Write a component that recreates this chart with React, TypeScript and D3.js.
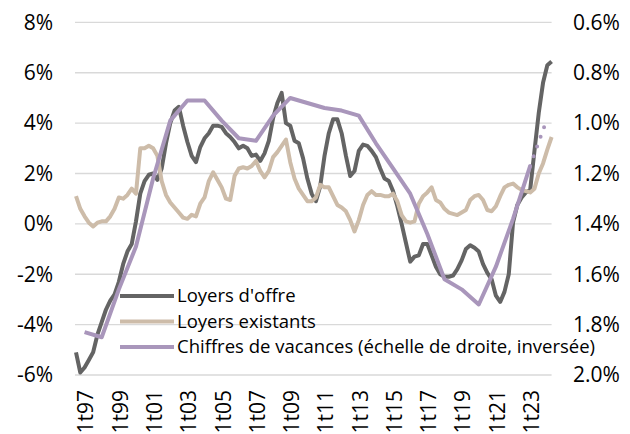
import React from "react";
import * as d3 from "d3";

// quarterly categories, 3t96 .. 2t24
const quarters: string[] = d3.range(112).map((i) => {
  const q = ((2 + i) % 4) + 1;
  const y = 1996 + Math.floor((2 + i) / 4);
  return `${q}t${String(y % 100).padStart(2, "0")}`;
});

const xTickLabels = ["1t97", "1t99", "1t01", "1t03", "1t05", "1t07", "1t09", "1t11", "1t13", "1t15", "1t17", "1t19", "1t21", "1t23"];
const leftTicks = [-6, -4, -2, 0, 2, 4, 6, 8];
const rightTicks = [0.6, 0.8, 1.0, 1.2, 1.4, 1.6, 1.8, 2.0];

// Loyers d'offre, % yoy
const offerRents = [
  -5.1, -5.9, -5.7, -5.4, -5.1, -4.4, -3.9, -3.4, -3.05, -2.8,
  -2.3, -1.6, -1.1, -0.8, 0.1, 1.2, 1.7, 1.95, 2.0, 1.75,
  2.2, 3.2, 4.0, 4.5, 4.65, 3.9, 3.25, 2.7, 2.45, 3.05,
  3.4, 3.6, 3.9, 3.9, 3.85, 3.6, 3.45, 3.25, 3.0, 3.1,
  3.0, 2.7, 2.75, 2.5, 2.8, 3.3, 4.2, 4.8, 5.2, 4.0,
  3.9, 3.3, 3.2, 2.6, 1.8, 1.2, 0.9, 1.5, 2.7, 3.6,
  4.15, 4.15, 3.6, 2.7, 1.9, 2.1, 2.9, 3.15, 3.1, 2.9,
  2.65, 2.2, 1.8, 1.7, 1.3, 0.7, 0.0, -0.75, -1.5, -1.3,
  -1.25, -0.8, -0.8, -1.25, -1.7, -2.0, -2.1, -2.1, -2.05, -1.8,
  -1.45, -1.0, -0.85, -0.95, -1.1, -1.6, -1.95, -2.2, -2.85, -3.1,
  -2.7, -2.0, 0.05, 0.75, 1.05, 1.25, 1.35, 2.9, 4.4, 5.6,
  6.3, 6.45,
];

// Loyers existants, % yoy
const existingRents = [
  1.1, 0.6, 0.3, 0.05, -0.1, 0.05, 0.1, 0.1, 0.3, 0.6,
  1.05, 1.0, 1.15, 1.4, 1.2, 3.0, 3.0, 3.1, 3.0, 2.7,
  1.7, 1.15, 0.85, 0.65, 0.45, 0.25, 0.2, 0.36, 0.3, 0.8,
  1.05, 1.7, 2.05, 1.75, 1.45, 1.0, 0.95, 1.9, 2.2, 2.25,
  2.2, 2.3, 2.5, 2.1, 1.85, 2.1, 2.65, 2.85, 3.1, 3.35,
  2.45, 1.8, 1.4, 1.15, 0.9, 0.9, 1.05, 1.55, 1.45, 1.45,
  1.1, 0.75, 0.65, 0.5, 0.15, -0.3, 0.15, 0.75, 1.15, 1.3,
  1.15, 1.15, 1.1, 1.1, 1.2, 0.9, 0.35, 0.1, 0.05, 0.1,
  0.8, 1.1, 1.25, 1.45, 0.95, 0.85, 0.6, 0.45, 0.4, 0.35,
  0.45, 0.55, 0.95, 1.1, 1.15, 0.95, 0.55, 0.5, 0.7, 1.1,
  1.45, 1.55, 1.6, 1.45, 1.35, 1.3, 1.25, 1.4, 2.0, 2.4,
  2.95, 3.45,
];

// Chiffres de vacances (right axis, inverted), one value per year at 1tYY
const vacancyQuarters = d3.range(1997, 2024).map((y) => `1t${String(y % 100).padStart(2, "0")}`);
const vacancyRates = [
  1.83, 1.85, 1.66, 1.49, 1.22, 0.99, 0.91, 0.91, 0.99, 1.06,
  1.07, 0.97, 0.9, 0.92, 0.94, 0.95, 0.97, 1.08, 1.18, 1.28,
  1.44, 1.62, 1.66, 1.72, 1.57, 1.38, 1.17,
];
const vacancyEstimateQuarters = ["1t23", "1t24"];
const vacancyEstimate = [1.17, 0.98];

const legendItems = [
  { label: "Loyers d'offre", color: "#646464" },
  { label: "Loyers existants", color: "#cdbca9" },
  { label: "Chiffres de vacances (échelle de droite, inversée)", color: "#a996bb" },
];

const W = 630;
const H = 434;
const FONT = "'Open Sans', 'Noto Sans', sans-serif";

export default function App() {
  const x = d3.scalePoint<string>().domain(quarters).range([76, 551.6]);
  const yL = d3.scaleLinear().domain([-6, 8]).range([375, 22.4]);
  const yR = d3.scaleLinear().domain([2.0, 0.6]).range([375, 22.4]);

  const leftLine = d3
    .line<number>()
    .x((_, i) => x(quarters[i]) as number)
    .y((d) => yL(d));

  const vacLine = d3
    .line<[string, number]>()
    .x((d) => x(d[0]) as number)
    .y((d) => yR(d[1]));

  const vacPts = vacancyQuarters.map((q, i) => [q, vacancyRates[i]] as [string, number]);
  const vacEst = vacancyEstimateQuarters.map((q, i) => [q, vacancyEstimate[i]] as [string, number]);

  const [x0, x1] = x.range();

  return (
    <svg
      width={W}
      height={H}
      style={{ position: "absolute", left: 0, top: 0, background: "#fff" }}
      fontFamily={FONT}
    >
      {/* gridlines */}
      {leftTicks.map((t) => (
        <line key={t} x1={x0 - 1} x2={x1} y1={yL(t)} y2={yL(t)} stroke="#d9d9d9" strokeWidth={1.3} />
      ))}

      {/* left axis */}
      {leftTicks.map((t) => (
        <text key={t} x={53} y={yL(t)} dy="0.35em" textAnchor="end" fontSize={21} fill="#000">
          {`${t}%`}
        </text>
      ))}

      {/* right axis */}
      {rightTicks.map((t) => (
        <text key={t} x={573} y={yR(t)} dy="0.35em" textAnchor="start" fontSize={21} fill="#000">
          {`${t.toFixed(1)}%`}
        </text>
      ))}

      {/* x axis labels */}
      {xTickLabels.map((q) => (
        <text
          key={q}
          transform={`translate(${(x(q) as number) + 1.5},390) rotate(-90)`}
          dy="0.35em"
          textAnchor="end"
          fontSize={21}
          fill="#000"
        >
          {q}
        </text>
      ))}

      {/* series */}
      <path d={leftLine(offerRents) || ""} fill="none" stroke={legendItems[0].color} strokeWidth={4} strokeLinejoin="round" />
      <path d={leftLine(existingRents) || ""} fill="none" stroke={legendItems[1].color} strokeWidth={4} strokeLinejoin="round" />
      <path d={vacLine(vacPts) || ""} fill="none" stroke={legendItems[2].color} strokeWidth={4} strokeLinejoin="round" />
      <path
        d={vacLine(vacEst) || ""}
        fill="none"
        stroke={legendItems[2].color}
        strokeWidth={4}
        strokeLinecap="round"
        strokeDasharray="0 10.3"
      />

      {/* legend */}
      {legendItems.map((it, i) => {
        const ly = 296 + i * 25.5;
        return (
          <g key={it.label}>
            <line x1={120} x2={174} y1={ly} y2={ly} stroke={it.color} strokeWidth={4} />
            <text x={177} y={ly} dy="0.35em" fontSize={18.5} fill="#000">
              {it.label}
            </text>
          </g>
        );
      })}
    </svg>
  );
}
